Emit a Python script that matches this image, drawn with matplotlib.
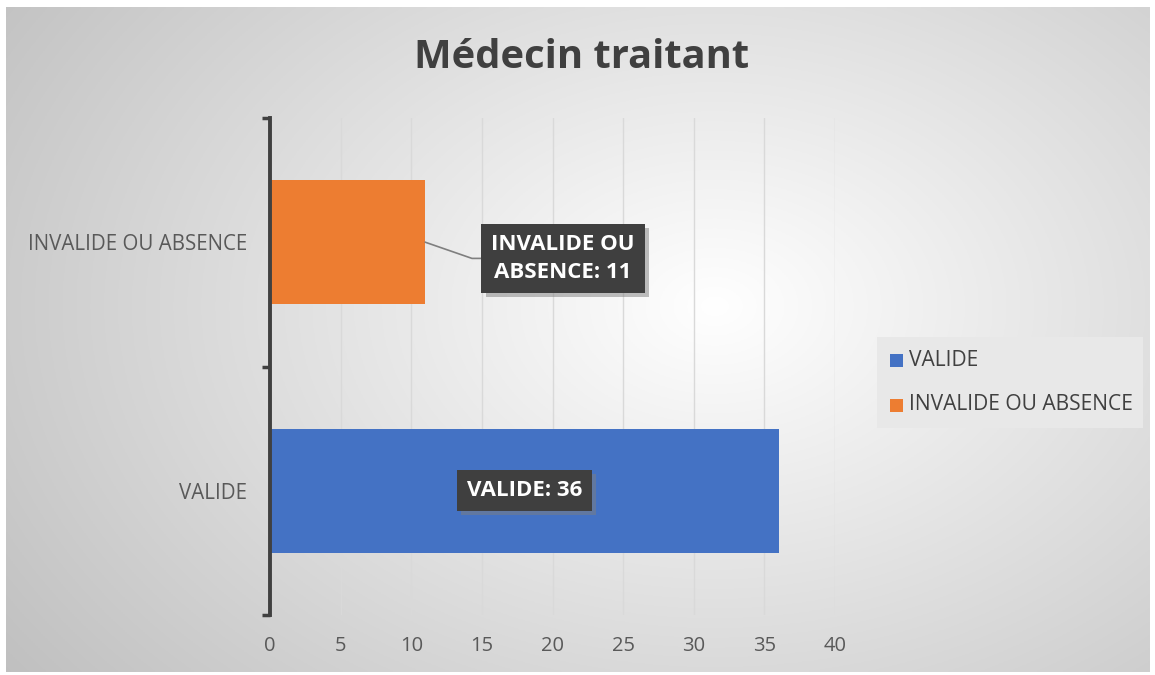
import numpy as np
import matplotlib
matplotlib.use("Agg")
import matplotlib.pyplot as plt
import matplotlib.patheffects as pe
from matplotlib.patches import Rectangle

plt.rcParams['font.family'] = ['Open Sans', 'DejaVu Sans']

# data
categories = ["VALIDE", "INVALIDE OU ABSENCE"]
values = [36, 11]
colors = ["#4472C4", "#ED7D31"]
x_ticks = [0, 5, 10, 15, 20, 25, 30, 35, 40]
data_labels = ["VALIDE: 36", "INVALIDE OU\nABSENCE: 11"]

W, H = 1155, 675
fig = plt.figure(figsize=(W / 100, H / 100), dpi=100)
fig.patch.set_facecolor("white")

# radial gradient background of the chart area
bg = fig.add_axes([6 / W, 3 / H, (1150 - 6) / W, (670 - 5) / H], zorder=0)
yy, xx = np.mgrid[0:1:300j, 0:1:500j]
r = np.sqrt(((xx - 0.62) / 0.62) ** 2 + ((yy - 0.55) / 0.75) ** 2)
g = 1.0 - 0.25 * np.clip(r, 0, 1.25) / 1.25
bg.imshow(np.dstack([g, g, g]), aspect="auto", extent=[0, 1, 0, 1], origin="lower")
bg.axis("off")

ax = fig.add_axes([270 / W, 60 / H, 565 / W, 497 / H], zorder=1)
ax.set_facecolor("none")

y = np.arange(len(categories))
ax.barh(y, values, height=0.5, color=colors, zorder=3)

ax.set_xlim(0, 40)
ax.set_ylim(-0.5, 1.5)
ax.set_xticks(x_ticks)
ax.set_xticklabels([str(t) for t in x_ticks])
ax.tick_params(axis="x", length=0, labelsize=14.5, labelcolor="#595959", pad=15)
ax.grid(axis="x", color="#d9d9d9", linewidth=1, zorder=0)

ax.set_yticks([-0.5, 0.5, 1.5])
ax.set_yticklabels([])
ax.set_yticks(y, minor=True)
ax.set_yticklabels(categories, minor=True)
ax.tick_params(axis="y", which="major", length=6, width=2.5, color="#404040", direction="out")
ax.tick_params(axis="y", which="minor", length=0, labelsize=14.8, labelcolor="#595959", pad=16.5)

for s in ["top", "right", "bottom"]:
    ax.spines[s].set_visible(False)
ax.spines["left"].set_color("#404040")
ax.spines["left"].set_linewidth(2.8)
ax.spines["left"].set_zorder(4)

shadow = [pe.withSimplePatchShadow(offset=(3, -3), shadow_rgbFace="#7f7f7f", alpha=0.5)]

# label for VALIDE, centered in bar
t0 = ax.text(values[0] / 2, y[0], data_labels[0], ha="center", va="center",
             fontsize=16, fontweight="bold", color="white", zorder=6,
             bbox=dict(boxstyle="square,pad=0.45", fc="#3f3f3f", ec="none"))
t0.get_bbox_patch().set_path_effects(shadow)

# label for INVALIDE with leader line
lab_x, lab_y = 20.75, 0.935
t1 = ax.text(lab_x, lab_y, data_labels[1], ha="center", va="center",
             fontsize=16, fontweight="bold", color="white", zorder=6,
             linespacing=1.4,
             bbox=dict(boxstyle="square,pad=0.45", fc="#3f3f3f", ec="none"))
t1.get_bbox_patch().set_path_effects(shadow)
ax.plot([values[1], 14.3, 15.5], [y[1], lab_y, lab_y], color="#7f7f7f", lw=1.2, zorder=5)

fig.text(582 / W, 1 - 57 / H, "Médecin traitant", ha="center", va="center",
         fontsize=28.7, fontweight="bold", color="#404040")

# legend box
fig.patches.append(Rectangle((877 / W, 1 - 428 / H), 266 / W, 91 / H,
                             transform=fig.transFigure, fc="#e8e8e8", ec="none", zorder=2))
for i, (lab, c) in enumerate(zip(categories, colors)):
    ycen = 1 - (360 + 45 * i) / H
    fig.patches.append(Rectangle((890 / W, ycen - 6.5 / H), 13 / W, 13 / H,
                                 transform=fig.transFigure, fc=c, ec="none", zorder=3))
    fig.text(909 / W, ycen, lab, ha="left", va="center", fontsize=15.1,
             color="#404040", zorder=4)

fig.savefig("out.png", dpi=100, facecolor="white")
